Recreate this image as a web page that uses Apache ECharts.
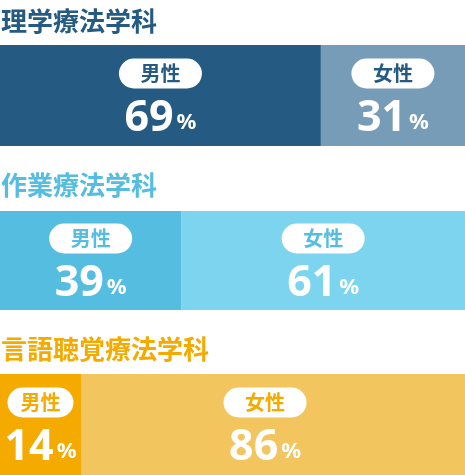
<!DOCTYPE html>
<html>
<head>
<meta charset="utf-8">
<script src="https://cdn.jsdelivr.net/npm/echarts@6/dist/echarts.min.js"></script>
<style>
  html, body { margin: 0; padding: 0; background: #fff; }
  #chart { width: 465px; height: 475px; }
</style>
</head>
<body>
<div id="chart"></div>
<script>
// data
var departments = ['理学療法学科', '作業療法学科', '言語聴覚療法学科'];
var genderLabels = ['男性', '女性'];
var maleValues = [69, 39, 14];
var femaleValues = [31, 61, 86];

// look
var darkColors = ['#255b82', '#55bde0', '#f5aa00'];
var lightColors = ['#769cb8', '#7cd4ef', '#f3c55e'];
var gridTops = [45, 211, 374];
var gridHeights = [101, 99, 101];
var titleTops = [8, 172, 336];
var pillWidths = [83, 83, 66];

var jpFont = '"Noto Sans CJK JP", sans-serif';
var numFont = '"Noto Sans", "Open Sans", sans-serif';

function labelFor(gender, textColor, pillWidth) {
	return {
		show: true,
		position: 'inside',
		offset: [0, 8],
		formatter: function (p) {
			return '{pill|' + gender + '}\n{num|' + p.value + '}{pct|%}';
		},
		rich: {
			pill: {
				backgroundColor: '#fff',
				borderRadius: 15,
				width: pillWidth,
				height: 30,
				lineHeight: 30,
				align: 'center',
				color: textColor,
				fontSize: 20,
				fontWeight: 'bold',
				fontFamily: jpFont
			},
			num: {
				color: '#fff',
				fontSize: 43,
				fontWeight: 'bold',
				lineHeight: 60,
				fontFamily: numFont
			},
			pct: {
				color: '#fff',
				fontSize: 22,
				fontWeight: 'bold',
				padding: [8, 0, 0, 3],
				fontFamily: numFont
			}
		}
	};
}

var grids = [], xAxes = [], yAxes = [], series = [], titles = [];
for (var i = 0; i < departments.length; i++) {
	grids.push({ left: 0, right: 0, top: gridTops[i], height: gridHeights[i] });
	xAxes.push({ gridIndex: i, type: 'value', min: 0, max: 100, show: false });
	yAxes.push({ gridIndex: i, type: 'category', data: [departments[i]], show: false });
	titles.push({
		text: departments[i],
		left: 1,
		top: titleTops[i],
		padding: 0,
		textStyle: {
			color: darkColors[i],
			fontSize: 26,
			fontWeight: 'bold',
			fontFamily: jpFont
		}
	});
	series.push({
		name: genderLabels[0],
		type: 'bar',
		xAxisIndex: i,
		yAxisIndex: i,
		stack: 'dept' + i,
		barWidth: '100%',
		barMinHeight: 81,
		z: 3,
		silent: true,
		itemStyle: { color: darkColors[i] },
		label: labelFor(genderLabels[0], darkColors[i], pillWidths[i]),
		data: [maleValues[i]]
	});
	series.push({
		name: genderLabels[1],
		type: 'bar',
		xAxisIndex: i,
		yAxisIndex: i,
		stack: 'dept' + i,
		barWidth: '100%',
		z: 2,
		silent: true,
		itemStyle: { color: lightColors[i] },
		label: labelFor(genderLabels[1], darkColors[i], 83),
		data: [femaleValues[i]]
	});
}

var chart = echarts.init(document.getElementById('chart'));
chart.setOption({
	animation: false,
	title: titles,
	grid: grids,
	xAxis: xAxes,
	yAxis: yAxes,
	series: series
});
</script>
</body>
</html>
